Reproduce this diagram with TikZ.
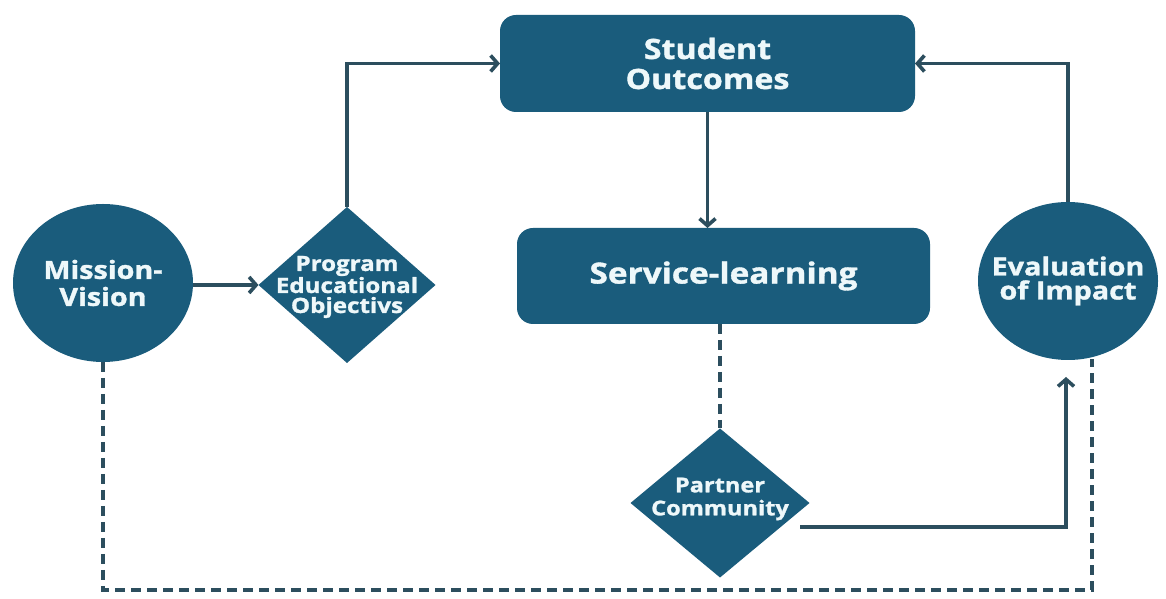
\documentclass[tikz,border=0pt]{standalone}
\usepackage{fontspec}
\setmainfont{Open Sans}[FakeStretch=1.15,BoldFeatures={FakeBold=1.3}]
\usetikzlibrary{shapes.geometric,arrows.meta}
\definecolor{boxfill}{HTML}{1A5C7C}
\definecolor{linec}{HTML}{2C4E5E}
\definecolor{txt}{HTML}{EEF8FA}
\begin{document}
\begin{tikzpicture}[x=1pt,y=1pt,
 blob/.style={fill=boxfill,draw=none,inner sep=0pt,outer sep=0pt},
 rbox/.style={blob,rectangle,rounded corners=16pt},
 circ/.style={blob,ellipse,minimum width=180pt,minimum height=158pt},
 dia/.style={blob,diamond},
 lbl/.style={text=txt,align=center,inner sep=0pt},
 conn/.style={draw=linec,line width=3.6pt},
 arr/.style={conn,-{Straight Barb[length=7pt,width=16pt]}},
 dashline/.style={conn,dash pattern=on 10pt off 6pt}
]
\useasboundingbox (0,0) rectangle (1166,599);
\fill[white] (0,0) rectangle (1166,599);

\node[rbox,minimum width=415pt,minimum height=97pt] (so) at (707.5,535.5) {};
\node[lbl,font=\bfseries\fontsize{28}{30}\selectfont] (sotext) at (so) {Student\\Outcomes};

\node[rbox,minimum width=413pt,minimum height=96pt] (sl) at (723.5,323) {};
\node[lbl,font=\bfseries\fontsize{29}{34}\selectfont] (sltext) at (sl) {Service-learning};

\node[circ] (mv) at (103,316) {};
\node[lbl,font=\bfseries\fontsize{25}{27}\selectfont] (mvtext) at (mv) {Mission-\\Vision};

\node[circ] (ev) at (1068,318) {};
\node[lbl,font=\bfseries\fontsize{25}{24}\selectfont] (evtext) at (ev) {Evaluation\\of Impact};

\node[dia,minimum width=177pt,minimum height=156pt] (peo) at (347,314) {};
\node[lbl,font=\bfseries\fontsize{21}{20}\selectfont] (peotext) at ([yshift=-2pt]peo.center) {Program\\Educational\\Objectivs};

\node[dia,minimum width=179pt,minimum height=149pt] (pc) at (720,96) {};
\node[lbl,font=\bfseries\fontsize{20.5}{23}\selectfont] (pctext) at ([yshift=4pt]pc.center) {Partner\\Community};

\coordinate (pcout) at (800,72);
\coordinate (evin) at (1066,222);
\coordinate (evd) at (1092,240);

\draw[arr] (mv.east |- peo.west) -- (peo.west);
\draw[arr] (peo.north) |- (so.west);
\draw[arr] (ev.north) |- (so.east);
\draw[arr] (so.south) -- (so.south |- sl.north);
\draw[dashline] (pc.north |- sl.south) -- (pc.north);
\draw[arr] (pcout) -| (evin);
\draw[dashline] (mv.south) |- (evd |- 0,9) -- (evd);
\end{tikzpicture}
\end{document}
